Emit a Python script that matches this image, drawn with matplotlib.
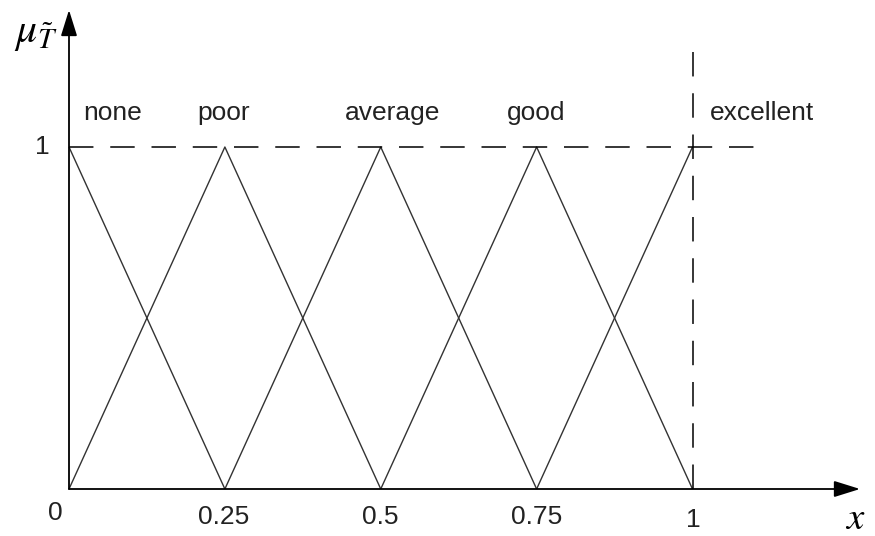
import matplotlib
matplotlib.use("Agg")
import matplotlib.pyplot as plt

# Data
peaks = [0.0, 0.25, 0.5, 0.75, 1.0]
names = ["none", "poor", "average", "good", "excellent"]
tick_vals = [0, 0.25, 0.5, 0.75, 1]
tick_labels = ["0", "0.25", "0.5", "0.75", "1"]

W, H = 875, 536
fig = plt.figure(figsize=(W/100, H/100), dpi=100)
ax = fig.add_axes([0, 0, 1, 1])
x0px, sx = 69, 623.5
y0px, sy = 489, 342
ax.set_xlim(-x0px/sx, (W - x0px)/sx)
ax.set_ylim(-(H - y0px)/sy, y0px/sy)
ax.axis("off")

lc = "#333333"
step = 0.25
for p in peaks:
    xs, ys = [], []
    if p - step >= -1e-9:
        xs.append(p - step); ys.append(0)
    xs.append(p); ys.append(1)
    if p + step <= 1 + 1e-9:
        xs.append(p + step); ys.append(0)
    ax.plot(xs, ys, color=lc, lw=1.0, solid_capstyle="butt")

# dashed lines
ax.plot([0, 1.108], [1, 1], color="black", lw=1.1, dashes=(16, 11))
ax.plot([1, 1], [(489-52)/342, 0], color="black", lw=1.1, dashes=(16, 11))

# axes with arrows
ax.annotate("", xy=((860-69)/623.5, 0), xytext=(0, 0),
            arrowprops=dict(arrowstyle="-|>,head_length=1.6,head_width=0.5", color="black", lw=1.3,
                            shrinkA=0, shrinkB=0))
ax.annotate("", xy=(0, (489-10)/342), xytext=(0, 0),
            arrowprops=dict(arrowstyle="-|>,head_length=1.6,head_width=0.5", color="black", lw=1.3,
                            shrinkA=0, shrinkB=0))

font = "Liberation Sans"
fs = 19
label_x = [113, 224, 393, 536, 762]
for nm, lx in zip(names, label_x):
    ax.text((lx - 69)/623.5, (489-113)/342, nm, ha="center", va="center",
            fontsize=fs, family=font, color="#222222")

ax.text(-(69-42)/623.5, 1.0, "1", ha="center", va="center", fontsize=fs, family=font, color="#222222")

tick_px_y = [513, 517, 517, 517, 520]
tick_px_x = [55, 224, 380, 537, 693]
for t, lab, px, py in zip(tick_vals, tick_labels, tick_px_x, tick_px_y):
    ax.text((px - 69)/623.5, (489 - py)/342, lab, ha="center", va="center",
            fontsize=fs, family=font, color="#222222")

ax.text((855-69)/623.5, (489-518)/342, r"$x$", ha="center", va="center", fontsize=28,
        math_fontfamily="stix")
ax.text((36-69)/623.5, (489-33)/342, r"$\boldsymbol{\mu}_{\tilde{T}}$" if False else r"$\mu_{\tilde{T}}$",
        ha="center", va="center", fontsize=30, math_fontfamily="stix")

fig.savefig("out.png", dpi=100)
